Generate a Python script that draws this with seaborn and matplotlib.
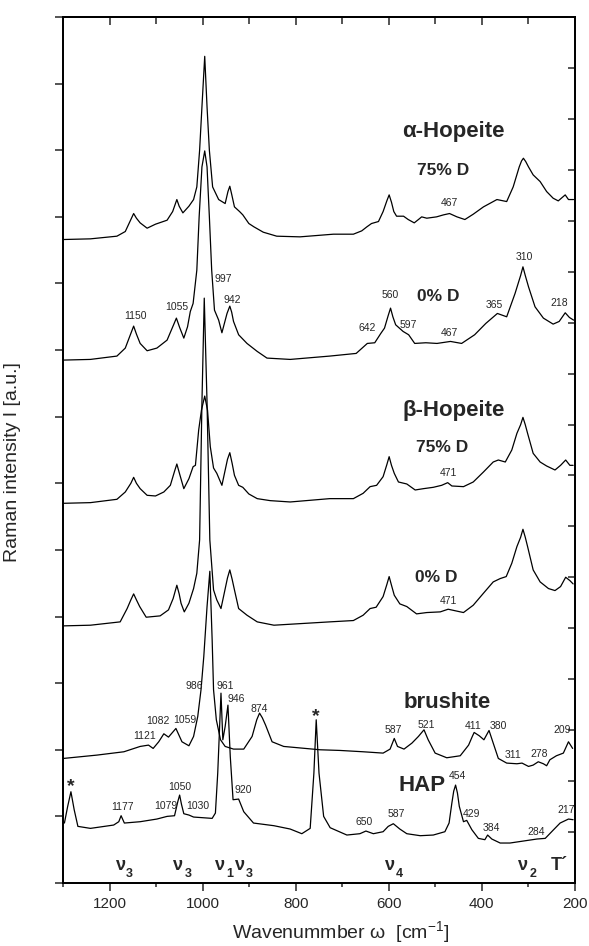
import numpy as np
import pandas as pd
import matplotlib
matplotlib.use("Agg")
import matplotlib.pyplot as plt
import seaborn as sns

# Raman spectra (offset), wavenumber in cm^-1, intensity in a.u. (offset stacked)
wn_a75 = [1300, 1242, 1185, 1167, 1155, 1149, 1143, 1135, 1120, 1102, 1077, 1065, 1060, 1056, 1051,
          1043, 1030, 1020, 1013, 1007, 1002, 996, 991, 986, 979, 966, 952, 946, 942, 938, 932, 921,
          914, 901, 890, 870, 841, 791, 719, 676, 658, 647, 637, 622, 612, 604, 599, 594, 589, 583,
          568, 558, 545, 536, 529, 518, 497, 482, 469, 453, 436, 418, 396, 367, 346, 332, 319, 314,
          310, 305, 299, 289, 274, 260, 246, 235, 220, 213, 202]
int_a75 = [9.66, 9.67, 9.71, 9.78, 9.96, 10.05, 9.98, 9.91, 9.83, 9.89, 9.95, 10.08, 10.18, 10.26, 10.16,
           10.06, 10.16, 10.26, 10.45, 11.00, 11.65, 12.41, 11.65, 11.00, 10.45, 10.26, 10.20, 10.38, 10.46, 10.34, 10.15, 10.08,
           10.03, 9.90, 9.85, 9.77, 9.71, 9.70, 9.74, 9.74, 9.79, 9.85, 9.90, 9.93, 10.08, 10.24, 10.33, 10.22, 10.08, 10.01,
           10.01, 9.96, 9.91, 9.96, 10.00, 9.98, 10.00, 10.03, 10.05, 10.00, 9.96, 10.04, 10.15, 10.26, 10.23, 10.45, 10.75, 10.84,
           10.88, 10.83, 10.75, 10.63, 10.53, 10.38, 10.28, 10.24, 10.33, 10.26, 10.26]

wn_a0 = [1300, 1242, 1185, 1167, 1155, 1149, 1143, 1135, 1120, 1099, 1077, 1063, 1057, 1050, 1041,
         1033, 1027, 1021, 1013, 1008, 1002, 996, 991, 986, 981, 975, 966, 959, 948, 942, 938, 934,
         923, 905, 883, 862, 812, 727, 670, 646, 630, 617, 609, 601, 596, 591, 585, 569, 557, 544,
         520, 496, 467, 443, 415, 391, 366, 346, 328, 316, 311, 306, 299, 285, 267, 246, 233, 220, 211, 202]
int_a0 = [7.85, 7.86, 7.91, 8.03, 8.25, 8.36, 8.24, 8.10, 7.99, 8.03, 8.15, 8.38, 8.48, 8.34, 8.18,
          8.35, 8.58, 8.70, 9.20, 10.00, 10.75, 10.99, 10.75, 10.00, 9.20, 8.60, 8.45, 8.26, 8.55, 8.66, 8.57, 8.43,
          8.23, 8.10, 7.98, 7.88, 7.86, 7.91, 7.95, 8.10, 8.11, 8.25, 8.33, 8.52, 8.63, 8.50, 8.38, 8.28, 8.23, 8.10,
          8.11, 8.10, 8.13, 8.10, 8.23, 8.40, 8.55, 8.50, 8.85, 9.12, 9.25, 9.12, 8.95, 8.65, 8.48, 8.39, 8.43, 8.56, 8.49, 8.45]

wn_b75 = [1300, 1242, 1185, 1167, 1155, 1149, 1143, 1135, 1120, 1102, 1084, 1070, 1061, 1056, 1050,
          1041, 1030, 1021, 1016, 1009, 1003, 996, 990, 984, 977, 970, 959, 947, 942, 937, 932, 923,
          914, 901, 883, 855, 812, 727, 676, 655, 640, 626, 612, 604, 599, 594, 588, 579, 561, 543,
          525, 504, 486, 473, 464, 439, 418, 396, 375, 364, 349, 335, 324, 316, 311, 306, 301, 289,
          274, 260, 242, 230, 219, 210, 203]
int_b75 = [5.70, 5.71, 5.76, 5.87, 6.00, 6.09, 6.00, 5.92, 5.82, 5.81, 5.87, 5.97, 6.18, 6.29, 6.14,
           5.92, 6.07, 6.25, 6.27, 6.80, 7.10, 7.31, 7.10, 6.55, 6.23, 6.15, 5.97, 6.36, 6.46, 6.30, 6.12, 5.97,
           5.94, 5.84, 5.77, 5.74, 5.72, 5.77, 5.77, 5.85, 5.95, 5.97, 6.10, 6.28, 6.40, 6.27, 6.15, 6.02, 5.99, 5.90,
           5.92, 5.94, 5.97, 6.01, 5.96, 5.95, 6.02, 6.17, 6.32, 6.35, 6.32, 6.50, 6.75, 6.88, 6.99, 6.88, 6.75, 6.45,
           6.32, 6.26, 6.20, 6.27, 6.35, 6.27, 6.27]

wn_b0 = [1300, 1242, 1178, 1163, 1155, 1149, 1143, 1136, 1122, 1092, 1074, 1064, 1056, 1051, 1047,
         1040, 1030, 1020, 1013, 1007, 1002, 997, 991, 985, 977, 970, 961, 947, 942, 937, 932, 923,
         905, 883, 847, 727, 676, 655, 640, 627, 612, 604, 599, 594, 588, 576, 561, 540, 518, 489,
         472, 439, 418, 396, 375, 360, 347, 335, 324, 316, 311, 306, 301, 289, 274, 256, 242, 230,
         219, 210, 203]
int_b0 = [3.86, 3.87, 3.92, 4.12, 4.25, 4.34, 4.25, 4.15, 3.99, 4.01, 4.10, 4.27, 4.47, 4.34, 4.20,
          4.07, 4.20, 4.42, 4.65, 5.15, 7.21, 8.78, 7.21, 5.15, 4.40, 4.25, 4.12, 4.58, 4.70, 4.56, 4.40, 4.12,
          4.02, 3.92, 3.87, 3.92, 3.94, 4.02, 4.12, 4.14, 4.30, 4.48, 4.60, 4.47, 4.32, 4.19, 4.15, 4.04, 4.06, 4.07,
          4.11, 4.06, 4.17, 4.35, 4.52, 4.57, 4.60, 4.80, 5.05, 5.19, 5.31, 5.19, 5.05, 4.70, 4.52, 4.42, 4.39, 4.45,
          4.59, 4.54, 4.49]

wn_br = [1300, 1228, 1170, 1135, 1117, 1107, 1095, 1084, 1074, 1058, 1045, 1030, 1020, 1011, 1004,
         998, 991, 985, 980, 977, 971, 962, 952, 934, 912, 894, 884, 878, 872, 865, 851, 826,
         748, 705, 655, 612, 597, 588, 581, 567, 550, 536, 524, 515, 500, 475, 446, 428, 420, 416,
         405, 395, 384, 375, 364, 346, 324, 313, 299, 289, 278, 267, 260, 253, 239, 224, 213, 204]
int_br = [1.87, 1.92, 1.97, 2.05, 2.07, 2.02, 2.12, 2.24, 2.19, 2.32, 2.12, 2.06, 2.20, 2.50, 2.90,
          3.40, 4.15, 4.68, 3.65, 2.90, 2.45, 2.15, 2.05, 2.01, 2.01, 2.20, 2.45, 2.55, 2.48, 2.37, 2.12, 2.05,
          2.00, 1.99, 1.97, 1.95, 2.01, 2.17, 2.05, 2.01, 2.10, 2.20, 2.30, 2.15, 1.95, 1.88, 1.91, 2.07, 2.20, 2.26,
          2.21, 2.15, 2.29, 2.10, 1.87, 1.80, 1.79, 1.80, 1.75, 1.77, 1.82, 1.79, 1.76, 1.85, 1.91, 1.95, 2.12, 2.02]

wn_hap = [1298, 1291, 1284, 1277, 1269, 1242, 1192, 1181, 1176, 1169, 1135, 1099, 1077, 1061, 1054,
          1050, 1046, 1041, 1030, 1020, 980, 973, 968, 961, 957, 952, 946, 941, 935, 923, 912, 891,
          847, 812, 787, 769, 761, 756, 750, 740, 726, 690, 662, 649, 633, 612, 601, 590, 576, 561,
          532, 504, 479, 470, 464, 460, 456, 452, 448, 439, 432, 421, 407, 393, 387, 378, 360, 339,
          310, 281, 263, 245, 231, 213, 203]
int_hap = [0.90, 1.15, 1.37, 1.10, 0.85, 0.82, 0.87, 0.92, 1.01, 0.90, 0.92, 0.96, 1.00, 1.01, 1.22,
           1.32, 1.18, 1.04, 1.02, 0.99, 0.97, 1.05, 1.65, 2.85, 2.15, 2.35, 2.67, 1.90, 1.25, 1.26, 1.07, 0.90,
           0.86, 0.81, 0.74, 0.82, 1.65, 2.45, 1.65, 1.00, 0.83, 0.72, 0.74, 0.78, 0.74, 0.77, 0.85, 0.89, 0.81, 0.74,
           0.71, 0.72, 0.77, 0.90, 1.20, 1.38, 1.47, 1.35, 1.15, 0.92, 0.94, 0.80, 0.67, 0.65, 0.72, 0.66, 0.60, 0.60,
           0.63, 0.66, 0.67, 0.80, 0.90, 0.96, 0.95]

spectra = [(wn_a75, int_a75), (wn_a0, int_a0), (wn_b75, int_b75),
           (wn_b0, int_b0), (wn_br, int_br), (wn_hap, int_hap)]

# sample names (bold, large)
names = ["α-Hopeite", "β-Hopeite", "brushite", "HAP"]
name_x = [461, 461, 475, 529]
name_y = [11.28, 7.09, 2.71, 1.46]

# deuteration labels
deut = ["75% D", "0% D", "75% D", "0% D"]
deut_x = [482, 493, 486, 497]
deut_y = [10.70, 8.81, 6.54, 4.59]

# peak position labels
peak_txt = ["467", "310", "560", "365", "218", "642", "597", "467", "997", "942", "1055", "1150",
            "471", "471",
            "986", "961", "946", "874", "1082", "1059", "1121", "587", "521", "411", "380", "209", "311", "278",
            "1050", "920", "1177", "1079", "1030", "454", "650", "587", "429", "384", "284", "217"]
peak_x = [470, 309, 597, 373, 233, 646, 558, 469, 957, 937, 1057, 1145,
          472, 472,
          1018, 952, 929, 878, 1097, 1039, 1126, 590, 520, 419, 364, 227, 333, 276,
          1050, 912, 1174, 1079, 1010, 453, 652, 584, 421, 380, 283, 217]
peak_y = [10.21, 9.40, 8.83, 8.68, 8.70, 8.33, 8.38, 8.25, 9.06, 8.75, 8.65, 8.51,
          6.15, 4.23,
          2.95, 2.95, 2.76, 2.61, 2.43, 2.45, 2.21, 2.30, 2.37, 2.35, 2.35, 2.30, 1.92, 1.94,
          1.44, 1.40, 1.14, 1.16, 1.16, 1.60, 0.91, 1.04, 1.04, 0.82, 0.76, 1.10]

# asterisks (artefact lines)
star_x = [756, 1284]
star_y = [2.50, 1.44]

# vibration mode labels along the bottom
mode_sym = ["ν", "ν", "ν", "ν", "ν", "ν"]
mode_sub = ["3", "3", "1", "3", "4", "2"]
mode_x = [1176, 1053, 963, 920, 597, 310]
sub_x = [1158, 1032, 942, 900, 577, 290]

sns.set_style("ticks")
plt.rcParams['font.family'] = ['Liberation Sans', 'DejaVu Sans']
plt.rcParams['mathtext.fontset'] = 'custom'
plt.rcParams['mathtext.rm'] = 'Liberation Sans'
plt.rcParams['mathtext.it'] = 'Liberation Sans:italic'

fig = plt.figure(figsize=(5.89, 9.46), dpi=100)
ax = fig.add_axes([0.1078, 0.0666, 0.8676, 0.9154])

for wn, inten in spectra:
    sns.lineplot(x=wn, y=inten, ax=ax, color='black', linewidth=0.9,
                 sort=False, estimator=None, legend=False)

ax.set_xlim(1300, 200)
ax.set_ylim(0, 13)

for t, x, y in zip(names, name_x, name_y):
    ax.text(x, y, t, fontsize=16, fontweight='bold', ha='center', va='center')
for t, x, y in zip(deut, deut_x, deut_y):
    ax.text(x, y, t, fontsize=12.5, fontweight='bold', ha='center', va='center')
for t, x, y in zip(peak_txt, peak_x, peak_y):
    ax.text(x, y, t, fontsize=7.5, ha='center', va='center')
for x, y in zip(star_x, star_y):
    ax.text(x, y, "*", fontsize=14, fontweight='bold', ha='center', va='center')
for s, sub, x, xs in zip(mode_sym, mode_sub, mode_x, sub_x):
    ax.text(x, 0.27, s, fontsize=13, fontweight='bold', ha='center', va='center')
    ax.text(xs, 0.14, sub, fontsize=9, fontweight='bold', ha='center', va='center')
ax.text(232, 0.27, "T´", fontsize=13, fontweight='bold', ha='center', va='center')

# axes, ticks
ax.set_xticks(np.arange(1200, 100, -200))
ax.set_xticks(np.arange(1300, 200, -200), minor=True)
ax.set_yticks(np.arange(0, 14, 1))
ax.set_yticklabels([])
ax.tick_params(axis='x', which='major', direction='out', length=6, width=1.1, labelsize=11, pad=4)
ax.tick_params(axis='x', which='minor', direction='out', length=3, width=1.1)
ax.tick_params(axis='y', which='major', direction='out', length=6, width=1.1)

top = ax.secondary_xaxis('top')
top.set_xticks(np.arange(1200, 300, -200))
top.set_xticks(np.arange(1100, 200, -200), minor=True)
top.tick_params(axis='x', which='major', direction='in', length=6, width=1.1, labeltop=False)
top.tick_params(axis='x', which='minor', direction='in', length=5, width=1.1)
top.set_xticklabels([])

ax2 = ax.twinx()
ax2.set_ylim(0, 17)
ax2.set_yticks(np.arange(0, 18, 1))
ax2.set_yticklabels([])
ax2.tick_params(axis='y', direction='in', length=5, width=1.1)

for a in (ax, ax2, top):
    for sp in a.spines.values():
        sp.set_linewidth(1.3)
        sp.set_color('black')

ax.set_xlabel("Wavenummber ω  [cm$^{-1}$]", fontsize=14)
ax.set_ylabel("Raman intensity I [a.u.]", fontsize=14)
ax.xaxis.set_label_coords(0.543, -0.042)
ax.yaxis.set_label_coords(-0.083, 0.486)

fig.savefig("out.png", dpi=100)
